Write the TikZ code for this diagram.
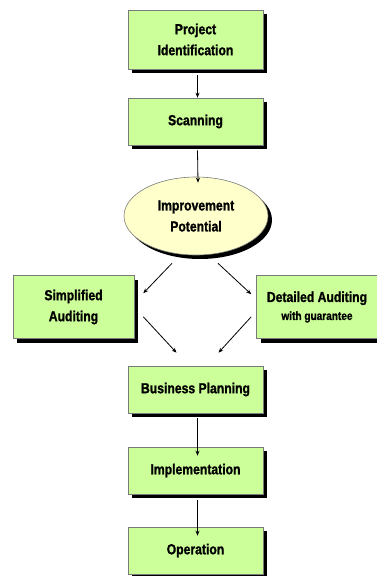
\documentclass[tikz,border=0pt]{standalone}
\usepackage{fontspec}
\newfontfamily\lbl{Liberation Sans}[FakeStretch=0.84, FakeBold=1.2]
\usetikzlibrary{shadows,shapes.geometric,arrows.meta}
\definecolor{boxgreen}{HTML}{CCFF99}
\definecolor{ovalyellow}{HTML}{FFFFCC}
\definecolor{edgegray}{HTML}{7A7A7A}
\tikzset{
  every node/.style={font=\lbl\bfseries\fontsize{14.5}{21}\selectfont, align=center, text=black},
  stepbox/.style={rectangle, draw=edgegray, line width=0.6pt, fill=boxgreen,
    inner sep=0pt, minimum width=#1, minimum height=47pt,
    drop shadow={shadow xshift=4pt, shadow yshift=-4pt, fill=black, opacity=1}},
  stepbox/.default=135pt,
  ovalbox/.style={ellipse, draw=edgegray, line width=0.6pt, fill=ovalyellow,
    inner sep=0pt, minimum width=144pt, minimum height=78pt,
    drop shadow={shadow xshift=4pt, shadow yshift=-4pt, fill=black, opacity=1}},
  arr/.style={-{Stealth[length=5pt,width=4pt]}, line width=0.8pt, black},
}
\begin{document}
\begin{tikzpicture}[x={(1pt,0)}, y={(0,-1pt)}]
  \clip (0,0) rectangle (377,576);
  \fill[white] (0,0) rectangle (377,576);

  % main column
  \node[stepbox, minimum height=59pt] (pid) at (195.5,39.5) {Project\\Identification};
  \node[stepbox] (scan) at (195.5,121.5) {\raisebox{-3pt}{Scanning}};
  \node[ovalbox] (imp) at (196,216) {Improvement\\Potential};

  % the two auditing routes
  \node[stepbox=121pt, minimum height=63pt] (simp) at (73.5,307) {Simplified\\Auditing};
  \node[stepbox=121pt, minimum height=63pt] (det) at (317,307)
    {Detailed Auditing\\[-3pt]{\fontsize{12}{14}\selectfont with guarantee}};

  \node[stepbox] (bp) at (195.5,389.5) {Business Planning};
  \node[stepbox] (impl) at (195.5,470.5) {Implementation};
  \node[stepbox] (op) at (195.5,550.5) {Operation};

  % connectors
  \draw[arr] ([xshift=2]pid.south) ++(0,6) -- ([xshift=2]scan.north);
  \draw[arr] ([xshift=2]scan.south) ++(0,5) -- ([xshift=2,yshift=-6]imp.north);
  \draw[arr] ([shift={(-24,8)}]imp.south) -- ([shift={(9,18)}]simp.north east);
  \draw[arr] ([shift={(22,8)}]imp.south) -- ([shift={(-5,19)}]det.north west);
  \draw[arr] ([shift={(9,-22)}]simp.south east) -- ([shift={(-19,-13)}]bp.north);
  \draw[arr] ([shift={(-5,-22)}]det.south west) -- ([shift={(23,-13)}]bp.north);
  \draw[arr] ([xshift=2]bp.south) ++(0,5) -- ([xshift=2,yshift=-9]impl.north);
  \draw[arr] ([xshift=2]impl.south) ++(0,6) -- ([xshift=2,yshift=-9]op.north);
\end{tikzpicture}
\end{document}
